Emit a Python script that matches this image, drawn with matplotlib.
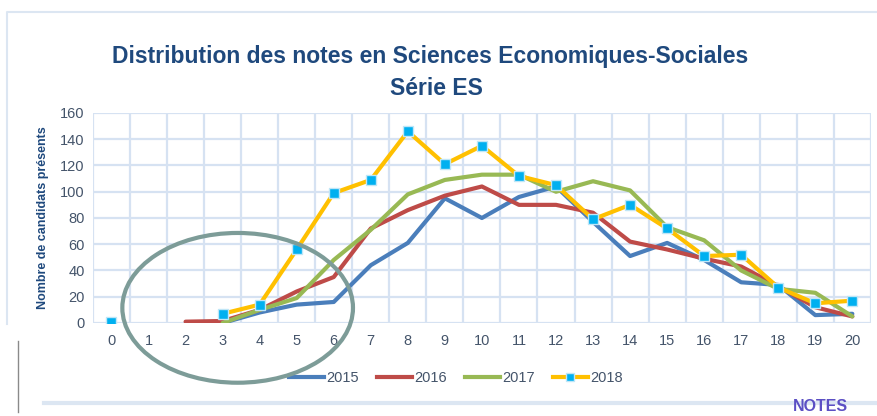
import matplotlib
matplotlib.use("Agg")
import matplotlib.pyplot as plt
from matplotlib.patches import Ellipse
from matplotlib.lines import Line2D
import numpy as np

nan = np.nan

NOTES = list(range(21))
YEARS = ["2015", "2016", "2017", "2018"]
V2015 = [nan, nan, nan, 0, 8, 14, 16, 44, 61, 95, 80, 96, 104, 77, 51, 61, 48, 31, 29, 6, 7]
V2016 = [nan, nan, 1, 1.5, 10, 24, 35, 72, 86, 97, 104, 90, 90, 84, 62, 56, 49, 43, 28, 12, 5]
V2017 = [nan, nan, nan, 0, 10, 19, 48, 71, 98, 109, 113, 113, 100, 108, 101, 73, 63, 40, 26, 23, 5]
V2018 = [1, nan, nan, 7, 14, 56, 99, 109, 146, 121, 135, 112, 105, 79, 90, 72, 51, 52, 27, 15, 17]
Y_TICKS = [0, 20, 40, 60, 80, 100, 120, 140, 160]

COLORS = {"2015": "#4a7ebb", "2016": "#be4b48", "2017": "#98b954", "2018": "#ffc000"}
TXT = "#1f497d"
TICK_TXT = "#44546a"
GRID = "#d6e2f2"

plt.rcParams["font.family"] = ["Liberation Sans", "DejaVu Sans"]

fig = plt.figure(figsize=(8.77, 4.16), dpi=100)
ax = fig.add_axes([0.106, 0.2236, 0.887, 0.5048])

# ── grid ──────────────────────────────────────────────────────────────────────
for y in Y_TICKS:
    ax.axhline(y, color=GRID, lw=1.6, zorder=0)
for i in range(len(NOTES) + 1):
    ax.axvline(i - 0.5, color=GRID, lw=1.6, zorder=0)

# ── series ────────────────────────────────────────────────────────────────────
x = np.array(NOTES)
for yr, vals in zip(YEARS[:3], [V2015, V2016, V2017]):
    ax.plot(x, vals, color=COLORS[yr], lw=3, solid_capstyle="round", zorder=3)
ax.plot(x, V2018, color=COLORS["2018"], lw=3, marker="s", markersize=6.5,
        markerfacecolor="#00b0f0", markeredgecolor="#bfe6f7", markeredgewidth=1,
        zorder=4)

ax.set_xlim(-0.5, 20.5)
ax.set_ylim(0, 160)
ax.set_xticks(NOTES)
ax.set_xticklabels([str(n) for n in NOTES])
ax.set_yticks(Y_TICKS)
ax.tick_params(axis="both", length=0, labelsize=10.5, colors=TICK_TXT, pad=8)
ax.tick_params(axis="y", pad=6)
for s in ax.spines.values():
    s.set_visible(False)
ax.set_ylabel("Nombre de candidats présents", fontsize=9, color=TXT,
              fontweight="bold", labelpad=8)

# ── highlight ellipse ─────────────────────────────────────────────────────────
ell = Ellipse((0.271, 0.26), 0.263, 0.36, transform=fig.transFigure,
              fill=False, edgecolor="#7d9c98", lw=3, zorder=10)
fig.add_artist(ell)

# ── titles ────────────────────────────────────────────────────────────────────
fig.text(0.49, 0.863, "Distribution des notes en Sciences Economiques-Sociales",
         ha="center", va="center", fontsize=16.5, fontweight="bold", color=TXT)
fig.text(0.498, 0.788, "Série ES", ha="center", va="center",
         fontsize=16.5, fontweight="bold", color=TXT)

# ── legend ────────────────────────────────────────────────────────────────────
handles = [Line2D([], [], color=COLORS[y], lw=3) for y in YEARS[:3]]
handles.append(Line2D([], [], color=COLORS["2018"], lw=3, marker="s", markersize=6,
                      markerfacecolor="#00b0f0", markeredgecolor="#bfe6f7"))
fig.legend(handles, YEARS, loc="center", bbox_to_anchor=(0.52, 0.091), ncol=4,
           frameon=False, fontsize=10.5, handlelength=2.4, handletextpad=0.2,
           columnspacing=1.2, labelcolor=TICK_TXT)

# ── frame decorations ─────────────────────────────────────────────────────────
fig.add_artist(Line2D([0.008, 0.008, 1.0], [0.22, 0.971, 0.971], color="#dce6f2",
                      lw=1.5, transform=fig.transFigure))
fig.add_artist(Line2D([0.05, 1.0], [0.031, 0.031], color="#dce6f2", lw=3,
                      transform=fig.transFigure))
fig.add_artist(Line2D([0.02, 0.02], [0.01, 0.18], color="#8a8a8a", lw=1,
                      transform=fig.transFigure))
fig.text(0.935, 0.004, "NOTES", ha="center", va="bottom", fontsize=11.5,
         fontweight="bold", color="#5b4fc4")

fig.savefig("out.png", dpi=100)
